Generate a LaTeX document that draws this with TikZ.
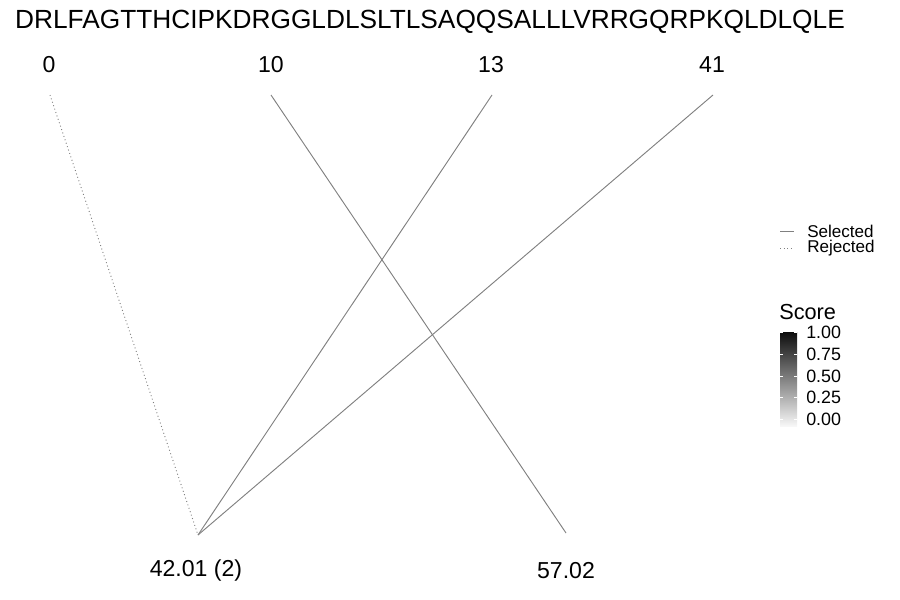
\documentclass[tikz,border=0pt]{standalone}
\usepackage{fontspec}
\setmainfont{Liberation Sans}
\usetikzlibrary{positioning}

\begin{document}
\begin{tikzpicture}[
    x=0.75pt, y=-0.75pt,
    seqlabel/.style={font=\fontsize{19.7}{22}\selectfont, inner sep=0pt},
    poslabel/.style={font=\fontsize{17.3}{20}\selectfont, inner sep=0pt},
    keytext/.style={font=\fontsize{12.8}{14}\selectfont, inner sep=0pt, anchor=west},
    selected/.style={draw=gray, line width=0.7pt},
    rejected/.style={draw=gray, line width=0.7pt, dotted}
]
    \useasboundingbox (0,0) rectangle (900,600);

    % Sequence on top
    \node[seqlabel] (seq) at (430,22) {DRLFAGTTHCIPKDRGGLDLSLTLSAQQSALLLVRRGQRPKQLDLQLE};

    % Top positions
    \node[poslabel] (p0) at (49,65) {0};
    \node[poslabel] (p10) at (271,65) {10};
    \node[poslabel] (p13) at (491,65) {13};
    \node[poslabel] (p41) at (712,65) {41};
    \coordinate (t0) at (50,95);
    \coordinate (t10) at (271,95);
    \coordinate (t13) at (492,95);
    \coordinate (t41) at (713,95);

    % Bottom masses
    \node[poslabel] (m42) at (196,571) {42.01 (2)};
    \node[poslabel] (m57) at (566,571) {57.02};
    \coordinate (b42) at (198,535);
    \coordinate (b57) at (566,533);

    % Matches
    \draw[rejected] (t0) -- (b42);
    \draw[selected] (t10) -- (b57);
    \draw[selected] (t13) -- (b42);
    \draw[selected] (t41) -- (b42);

    % Line type legend
    \coordinate (ks1) at (780,231);
    \coordinate (ke1) at (794,231);
    \coordinate (ks2) at (780,248);
    \coordinate (ke2) at (794,248);
    \draw[selected] (ks1) -- (ke1);
    \draw[rejected] (ks2) -- (ke2);
    \node[keytext] (sel) at (807,231) {Selected};
    \node[keytext] (rej) at (807,248) {Rejected};

    % Score colour bar
    \node[font=\fontsize{16.3}{18}\selectfont, inner sep=0pt, anchor=west] (score) at (779,312) {Score};
    \shade[top color=black!95, bottom color=black!3] (780,332) rectangle (797,426);
    \foreach \yy/\lab in {332/1.00, 354/0.75, 376/0.50, 397/0.25, 419/0.00} {
        \draw[white, line width=0.5pt] (780,\yy) -- (783,\yy);
        \draw[white, line width=0.5pt] (794,\yy) -- (797,\yy);
        \node[keytext, font=\fontsize{13.4}{15}\selectfont] at (806,\yy) {\lab};
    }
\end{tikzpicture}
\end{document}
